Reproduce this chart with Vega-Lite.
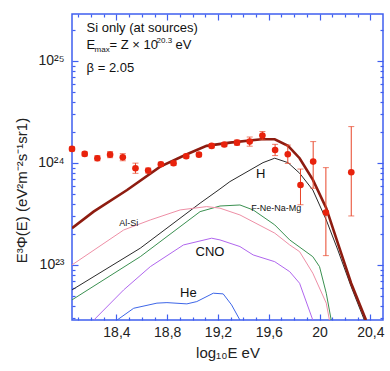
{
  "$schema": "https://vega.github.io/schema/vega-lite/v6.json",
  "width": 311,
  "height": 306,
  "autosize": {"type": "none"},
  "padding": {"left": 72, "top": 14, "right": 7, "bottom": 51},
  "config": {
    "font": "Liberation Sans",
    "view": {"stroke": "#3f5ff0", "strokeWidth": 1.5},
    "axis": {
      "domain": false, "grid": false, "tickColor": "#3f5ff0", "tickWidth": 1.2,
      "labelFont": "Liberation Sans", "labelFontSize": 14, "labelColor": "#222222",
      "titleFont": "Liberation Sans", "titleFontSize": 15, "titleFontWeight": "normal", "titleColor": "#222222"
    }
  },
  "datasets": {
    "curves": [
      {"series": "Total", "x": 18.05, "y": 2.29e23},
      {"series": "Total", "x": 18.22, "y": 3.33e23},
      {"series": "Total", "x": 18.484, "y": 5.43e23},
      {"series": "Total", "x": 18.745, "y": 9.2e23},
      {"series": "Total", "x": 18.955, "y": 1.216e24},
      {"series": "Total", "x": 19.11, "y": 1.469e24},
      {"series": "Total", "x": 19.294, "y": 1.581e24},
      {"series": "Total", "x": 19.543, "y": 1.706e24},
      {"series": "Total", "x": 19.647, "y": 1.706e24},
      {"series": "Total", "x": 19.752, "y": 1.469e24},
      {"series": "Total", "x": 19.843, "y": 1.112e24},
      {"series": "Total", "x": 19.948, "y": 6.81e23},
      {"series": "Total", "x": 20.053, "y": 3.6e23},
      {"series": "Total", "x": 20.144, "y": 1.633e23},
      {"series": "Total", "x": 20.249, "y": 6.62e22},
      {"series": "Total", "x": 20.366, "y": 2.88e22},
      {"series": "H", "x": 18.05, "y": 5.69e22},
      {"series": "H", "x": 18.588, "y": 1.459e23},
      {"series": "H", "x": 19.059, "y": 4.03e23},
      {"series": "H", "x": 19.216, "y": 5.56e23},
      {"series": "H", "x": 19.294, "y": 6.56e23},
      {"series": "H", "x": 19.555, "y": 1.007e24},
      {"series": "H", "x": 19.647, "y": 1.112e24},
      {"series": "H", "x": 19.751, "y": 1.007e24},
      {"series": "H", "x": 19.843, "y": 7.93e23},
      {"series": "H", "x": 19.947, "y": 5.43e23},
      {"series": "H", "x": 20.053, "y": 2.76e23},
      {"series": "H", "x": 20.144, "y": 1.403e23},
      {"series": "H", "x": 20.249, "y": 6.12e22},
      {"series": "H", "x": 20.353, "y": 2.88e22},
      {"series": "F-Ne-Na-Mg", "x": 18.05, "y": 4.54e22},
      {"series": "F-Ne-Na-Mg", "x": 18.588, "y": 1.205e23},
      {"series": "F-Ne-Na-Mg", "x": 19.059, "y": 3.33e23},
      {"series": "F-Ne-Na-Mg", "x": 19.216, "y": 3.78e23},
      {"series": "F-Ne-Na-Mg", "x": 19.373, "y": 3.87e23},
      {"series": "F-Ne-Na-Mg", "x": 19.477, "y": 3.46e23},
      {"series": "F-Ne-Na-Mg", "x": 19.647, "y": 2.47e23},
      {"series": "F-Ne-Na-Mg", "x": 19.765, "y": 1.758e23},
      {"series": "F-Ne-Na-Mg", "x": 19.947, "y": 1.205e23},
      {"series": "F-Ne-Na-Mg", "x": 20.0, "y": 9.62e22},
      {"series": "F-Ne-Na-Mg", "x": 20.053, "y": 5.28e22},
      {"series": "F-Ne-Na-Mg", "x": 20.092, "y": 2.88e22},
      {"series": "Al-Si", "x": 18.05, "y": 1.0e23},
      {"series": "Al-Si", "x": 18.457, "y": 2.2e23},
      {"series": "Al-Si", "x": 18.667, "y": 2.76e23},
      {"series": "Al-Si", "x": 18.902, "y": 3.46e23},
      {"series": "Al-Si", "x": 19.111, "y": 3.73e23},
      {"series": "Al-Si", "x": 19.216, "y": 3.6e23},
      {"series": "Al-Si", "x": 19.373, "y": 3.09e23},
      {"series": "Al-Si", "x": 19.647, "y": 2.05e23},
      {"series": "Al-Si", "x": 19.765, "y": 1.57e23},
      {"series": "Al-Si", "x": 19.843, "y": 1.349e23},
      {"series": "Al-Si", "x": 19.947, "y": 8.3e22},
      {"series": "Al-Si", "x": 20.053, "y": 4.22e22},
      {"series": "Al-Si", "x": 20.078, "y": 2.88e22},
      {"series": "CNO", "x": 18.222, "y": 2.88e22},
      {"series": "CNO", "x": 18.457, "y": 5.69e22},
      {"series": "CNO", "x": 18.667, "y": 9.62e22},
      {"series": "CNO", "x": 18.928, "y": 1.57e23},
      {"series": "CNO", "x": 19.15, "y": 1.828e23},
      {"series": "CNO", "x": 19.216, "y": 1.758e23},
      {"series": "CNO", "x": 19.373, "y": 1.514e23},
      {"series": "CNO", "x": 19.477, "y": 1.253e23},
      {"series": "CNO", "x": 19.647, "y": 1.076e23},
      {"series": "CNO", "x": 19.765, "y": 8.59e22},
      {"series": "CNO", "x": 19.843, "y": 6.61e22},
      {"series": "CNO", "x": 19.947, "y": 2.88e22},
      {"series": "He", "x": 18.405, "y": 2.88e22},
      {"series": "He", "x": 18.536, "y": 3.76e22},
      {"series": "He", "x": 18.719, "y": 4.22e22},
      {"series": "He", "x": 18.798, "y": 4.27e22},
      {"series": "He", "x": 18.955, "y": 4.15e22},
      {"series": "He", "x": 19.033, "y": 4.37e22},
      {"series": "He", "x": 19.163, "y": 5.28e22},
      {"series": "He", "x": 19.241, "y": 5.2e22},
      {"series": "He", "x": 19.307, "y": 4.06e22},
      {"series": "He", "x": 19.373, "y": 2.88e22}
    ],
    "points": [
      {"x": 18.05, "y": 1.371e24, "lo": 1.309e24, "hi": 1.435e24},
      {"x": 18.15, "y": 1.225e24, "lo": 1.169e24, "hi": 1.282e24},
      {"x": 18.25, "y": 1.112e24, "lo": 1.05e24, "hi": 1.178e24},
      {"x": 18.35, "y": 1.205e24, "lo": 1.125e24, "hi": 1.291e24},
      {"x": 18.45, "y": 1.138e24, "lo": 1.05e24, "hi": 1.233e24},
      {"x": 18.55, "y": 8.87e23, "lo": 7.91e23, "hi": 9.95e23},
      {"x": 18.65, "y": 8.41e23, "lo": 7.94e23, "hi": 8.91e23},
      {"x": 18.75, "y": 9.7e23, "lo": 9.26e23, "hi": 1.016e24},
      {"x": 18.85, "y": 9.93e23, "lo": 9.48e23, "hi": 1.04e24},
      {"x": 18.95, "y": 1.164e24, "lo": 1.112e24, "hi": 1.219e24},
      {"x": 19.05, "y": 1.205e24, "lo": 1.151e24, "hi": 1.262e24},
      {"x": 19.15, "y": 1.469e24, "lo": 1.403e24, "hi": 1.538e24},
      {"x": 19.25, "y": 1.514e24, "lo": 1.445e24, "hi": 1.585e24},
      {"x": 19.35, "y": 1.581e24, "lo": 1.493e24, "hi": 1.675e24},
      {"x": 19.45, "y": 1.618e24, "lo": 1.459e24, "hi": 1.795e24},
      {"x": 19.55, "y": 1.854e24, "lo": 1.69e24, "hi": 2.032e24},
      {"x": 19.65, "y": 1.34e24, "lo": 1.18e24, "hi": 1.521e24},
      {"x": 19.75, "y": 1.216e24, "lo": 9.89e23, "hi": 1.496e24},
      {"x": 19.85, "y": 6.08e23, "lo": 3.89e23, "hi": 8.71e23},
      {"x": 19.95, "y": 1.03e24, "lo": 5.65e23, "hi": 1.618e24},
      {"x": 20.05, "y": 3.26e23, "lo": 1.233e23, "hi": 8.99e23},
      {"x": 20.25, "y": 8.11e23, "lo": 3.02e23, "hi": 2.27e24}
    ],
    "labels": [
      {"x": 19.536, "y": 7.76e23, "text": "H"},
      {"x": 19.66, "y": 3.6e23, "text": "F-Ne-Na-Mg"},
      {"x": 18.497, "y": 2.6e23, "text": "Al-Si"},
      {"x": 19.137, "y": 1.349e23, "text": "CNO"},
      {"x": 18.967, "y": 5.35e22, "text": "He"}
    ],
    "header": [
      {"part": "l1", "x": 18.165, "y": 1.936e25, "text": "Si only (at sources)"},
      {"part": "l2", "x": 18.165, "y": 1.303e25, "text": "E"},
      {"part": "l3", "x": 18.165, "y": 7.85e24, "text": "β = 2.05"}
    ]
  },
  "resolve": {"axis": {"x": "independent", "y": "independent"}},
  "layer": [
    {
      "data": {"name": "curves"},
      "transform": [{"filter": "datum.series !== 'Total'"}],
      "mark": {"type": "line", "strokeWidth": 1, "clip": true},
      "encoding": {
        "x": {"field": "x", "type": "quantitative", "scale": {"domain": [18.05, 20.5], "nice": false, "zero": false},
          "axis": {"orient": "bottom", "values": [18.4, 18.8, 19.2, 19.6, 20, 20.4], "tickSize": -6, "labelPadding": 11,
            "labelExpr": "datum.value == 20 ? '20' : replace(format(datum.value, '.1f'), '.', ',')",
            "title": "log₁₀E eV", "titlePadding": 6}},
        "y": {"field": "y", "type": "quantitative", "scale": {"type": "log", "domain": [2.884e22, 2.884e25], "nice": false},
          "axis": {"orient": "left", "values": [1e23, 1e24, 1e25], "tickSize": -6, "labelPadding": 14,
            "labelExpr": "datum.value > 5e24 ? '10²⁵' : datum.value > 5e23 ? '10²⁴' : '10²³'",
            "title": "E³Φ(E) (eV²m⁻²s⁻¹sr1)", "titlePadding": 8, "titleY": 176}},
        "color": {"field": "series", "type": "nominal",
          "scale": {"domain": ["H", "F-Ne-Na-Mg", "Al-Si", "CNO", "He"], "range": ["#2a2a2a", "#3a9050", "#ee8fa6", "#b066ee", "#3d66e8"]},
          "legend": null}
      }
    },
    {
      "data": {"name": "curves"},
      "transform": [{"filter": "datum.series === 'Total'"}],
      "mark": {"type": "line", "strokeWidth": 2.6, "color": "#8e1c10", "clip": true},
      "encoding": {
        "x": {"field": "x", "type": "quantitative", "axis": {"orient": "top", "values": [18.4, 18.8, 19.2, 19.6, 20, 20.4], "tickSize": -6, "labels": false, "title": null}},
        "y": {"field": "y", "type": "quantitative", "axis": {"orient": "right", "values": [1e23, 1e24, 1e25], "tickSize": -6, "labels": false, "title": null}}
      }
    },
    {
      "data": {"name": "points"},
      "mark": {"type": "rule", "color": "#e8462a", "strokeWidth": 1, "clip": true},
      "encoding": {
        "x": {"field": "x", "type": "quantitative", "axis": {"orient": "bottom", "values": [18.1, 18.2, 18.3, 18.5, 18.6, 18.7, 18.9, 19.0, 19.1, 19.3, 19.4, 19.5, 19.7, 19.8, 19.9, 20.1, 20.2, 20.3], "tickSize": -3, "labels": false, "title": null}},
        "y": {"field": "lo", "type": "quantitative", "axis": {"orient": "left", "values": [3e22, 4e22, 5e22, 6e22, 7e22, 8e22, 9e22, 2e23, 3e23, 4e23, 5e23, 6e23, 7e23, 8e23, 9e23, 2e24, 3e24, 4e24, 5e24, 6e24, 7e24, 8e24, 9e24, 2e25], "tickSize": -3, "labels": false, "title": null}},
        "y2": {"field": "hi"}
      }
    },
    {
      "data": {"name": "points"},
      "mark": {"type": "tick", "orient": "horizontal", "color": "#e8462a", "size": 6, "thickness": 1},
      "encoding": {
        "x": {"field": "x", "type": "quantitative", "axis": {"orient": "top", "values": [18.1, 18.2, 18.3, 18.5, 18.6, 18.7, 18.9, 19.0, 19.1, 19.3, 19.4, 19.5, 19.7, 19.8, 19.9, 20.1, 20.2, 20.3], "tickSize": -3, "labels": false, "title": null}},
        "y": {"field": "lo", "type": "quantitative", "axis": {"orient": "right", "values": [3e22, 4e22, 5e22, 6e22, 7e22, 8e22, 9e22, 2e23, 3e23, 4e23, 5e23, 6e23, 7e23, 8e23, 9e23, 2e24, 3e24, 4e24, 5e24, 6e24, 7e24, 8e24, 9e24, 2e25], "tickSize": -3, "labels": false, "title": null}}
      }
    },
    {
      "data": {"name": "points"},
      "mark": {"type": "tick", "orient": "horizontal", "color": "#e8462a", "size": 6, "thickness": 1},
      "encoding": {
        "x": {"field": "x", "type": "quantitative", "axis": null},
        "y": {"field": "hi", "type": "quantitative", "axis": null}
      }
    },
    {
      "data": {"name": "points"},
      "mark": {"type": "circle", "color": "#e8220c", "opacity": 1, "size": 44},
      "encoding": {
        "x": {"field": "x", "type": "quantitative", "axis": null},
        "y": {"field": "y", "type": "quantitative", "axis": null}
      }
    },
    {
      "data": {"name": "labels"},
      "transform": [{"filter": {"field": "text", "oneOf": ["H", "CNO", "He"]}}],
      "mark": {"type": "text", "fontSize": 13, "color": "#111111", "align": "center", "baseline": "middle"},
      "encoding": {
        "x": {"field": "x", "type": "quantitative", "axis": null},
        "y": {"field": "y", "type": "quantitative", "axis": null},
        "text": {"field": "text"}
      }
    },
    {
      "data": {"name": "labels"},
      "transform": [{"filter": {"field": "text", "oneOf": ["Al-Si", "F-Ne-Na-Mg"]}}],
      "mark": {"type": "text", "fontSize": 9, "color": "#111111", "align": "center", "baseline": "middle"},
      "encoding": {
        "x": {"field": "x", "type": "quantitative", "axis": null},
        "y": {"field": "y", "type": "quantitative", "axis": null},
        "text": {"field": "text"}
      }
    },
    {
      "data": {"name": "header"},
      "mark": {"type": "text", "fontSize": 13, "color": "#111111", "align": "left", "baseline": "alphabetic"},
      "encoding": {
        "x": {"field": "x", "type": "quantitative", "axis": null},
        "y": {"field": "y", "type": "quantitative", "axis": null},
        "text": {"field": "text"}
      }
    },
    {
      "data": {"name": "header"},
      "transform": [{"filter": "datum.part === 'l2'"}],
      "mark": {"type": "text", "fontSize": 8, "color": "#111111", "align": "left", "baseline": "alphabetic", "dx": 8, "dy": 3},
      "encoding": {
        "x": {"field": "x", "type": "quantitative", "axis": null},
        "y": {"field": "y", "type": "quantitative", "axis": null},
        "text": {"value": "max"}
      }
    },
    {
      "data": {"name": "header"},
      "transform": [{"filter": "datum.part === 'l2'"}],
      "mark": {"type": "text", "fontSize": 13, "color": "#111111", "align": "left", "baseline": "alphabetic", "dx": 23},
      "encoding": {
        "x": {"field": "x", "type": "quantitative", "axis": null},
        "y": {"field": "y", "type": "quantitative", "axis": null},
        "text": {"value": "= Z × 10"}
      }
    },
    {
      "data": {"name": "header"},
      "transform": [{"filter": "datum.part === 'l2'"}],
      "mark": {"type": "text", "fontSize": 8, "color": "#111111", "align": "left", "baseline": "alphabetic", "dx": 70, "dy": -6},
      "encoding": {
        "x": {"field": "x", "type": "quantitative", "axis": null},
        "y": {"field": "y", "type": "quantitative", "axis": null},
        "text": {"value": "20.3"}
      }
    },
    {
      "data": {"name": "header"},
      "transform": [{"filter": "datum.part === 'l2'"}],
      "mark": {"type": "text", "fontSize": 13, "color": "#111111", "align": "left", "baseline": "alphabetic", "dx": 89},
      "encoding": {
        "x": {"field": "x", "type": "quantitative", "axis": null},
        "y": {"field": "y", "type": "quantitative", "axis": null},
        "text": {"value": "eV"}
      }
    }
  ]
}
